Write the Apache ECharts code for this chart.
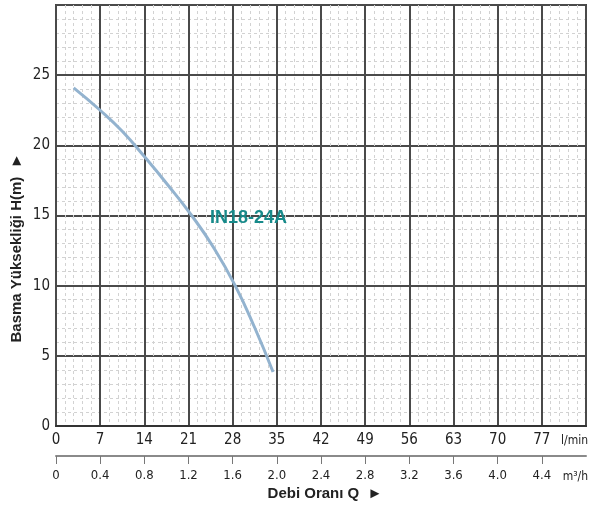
<!DOCTYPE html>
<html>
<head>
<meta charset="utf-8">
<script src="https://cdn.jsdelivr.net/npm/echarts@6/dist/echarts.min.js"></script>
<style>html,body{margin:0;padding:0;background:#fff}#c{width:589px;height:507px}</style>
</head>
<body>
<div id="c"></div>
<script>
var flowLmin = [2.8, 7, 10.5, 14, 17.5, 21.5, 25, 28.4, 31.5, 34.4];
var headM = [24.1, 22.5, 21.0, 19.2, 17.3, 15.0, 12.7, 10.0, 7.0, 3.85];
var lminTicks = [0, 7, 14, 21, 28, 35, 42, 49, 56, 63, 70, 77];
var m3hTicks = ['0', '0.4', '0.8', '1.2', '1.6', '2.0', '2.4', '2.8', '3.2', '3.6', '4.0', '4.4'];
var headTicks = [0, 5, 10, 15, 20, 25];
var seriesName = 'IN18-24A';

var font = '"DejaVu Sans Condensed", "Liberation Sans Narrow", "Liberation Sans", Arial, sans-serif';
var chart = echarts.init(document.getElementById('c'), null, {renderer: 'canvas'});
var data = flowLmin.map(function (q, i) { return [q, headM[i]]; });

chart.setOption({
  animation: false,
  grid: {left: 56, right: 3, top: 5, bottom: 81, show: true, borderColor: '#444', borderWidth: 2, backgroundColor: 'transparent'},
  xAxis: [{
    type: 'value', min: 0, max: 84, interval: 7, position: 'bottom',
    axisLine: {show: true, lineStyle: {color: '#333', width: 2}},
    axisTick: {show: false},
    axisLabel: {customValues: lminTicks, color: '#222', fontSize: 15, fontFamily: font, margin: 7},
    splitLine: {show: true, lineStyle: {color: '#4a4a4a', width: 2}},
    minorTick: {show: true, splitNumber: 5, length: 0},
    minorSplitLine: {show: true, lineStyle: {color: '#d2d2d2', width: 1, type: [3, 3]}}
  }, {
    type: 'value', min: 0, max: 84, interval: 7, position: 'bottom', offset: 30,
    axisLine: {show: true, lineStyle: {color: '#8a8a8a', width: 2}},
    axisTick: {show: true, customValues: lminTicks, length: 8, lineStyle: {color: '#777', width: 1}},
    axisLabel: {customValues: lminTicks, color: '#222', fontSize: 13, fontFamily: font, margin: 13,
      formatter: function (v) { var i = lminTicks.indexOf(v); return i >= 0 ? m3hTicks[i] : ''; }},
    splitLine: {show: false}
  }],
  yAxis: {
    type: 'value', min: 0, max: 30, interval: 5,
    axisLine: {show: false}, axisTick: {show: false},
    axisLabel: {customValues: headTicks, color: '#222', fontSize: 15, fontFamily: font, margin: 6},
    splitLine: {show: true, lineStyle: {color: '#4a4a4a', width: 2}},
    minorTick: {show: true, splitNumber: 5, length: 0},
    minorSplitLine: {show: true, lineStyle: {color: '#d2d2d2', width: 1, type: [3, 3]}}
  },
  series: [{
    name: seriesName, type: 'line', smooth: true, showSymbol: false, symbol: 'none',
    data: data, lineStyle: {color: '#93b3cf', width: 3},
    markPoint: {
      symbol: 'circle', symbolSize: 1, itemStyle: {color: 'rgba(0,0,0,0)'},
      label: {show: true, position: 'inside', formatter: seriesName, color: '#178a8a', fontSize: 18, fontWeight: 'bold',
        fontFamily: '"Liberation Sans", Arial, sans-serif'},
      data: [{coord: [30.5, 14.82], value: 0}]
    }
  }],
  graphic: [
    {type: 'text', x: 588, y: 441, style: {text: 'l/min', fontSize: 12, fontFamily: font, fill: '#222', align: 'right', verticalAlign: 'middle'}},
    {type: 'text', x: 588, y: 477, style: {text: 'm³/h', fontSize: 12, fontFamily: font, fill: '#222', align: 'right', verticalAlign: 'middle'}},
    {type: 'text', x: 325, y: 494, style: {text: 'Debi Oranı Q  ►', fontSize: 15, fontWeight: 'bold',
      fontFamily: '"Liberation Sans", Arial, sans-serif', fill: '#222', align: 'center', verticalAlign: 'middle'}},
    {type: 'text', x: 17, y: 248, rotation: Math.PI / 2, style: {text: 'Basma Yüksekliği H(m)  ►', fontSize: 15, fontWeight: 'bold',
      fontFamily: '"Liberation Sans", Arial, sans-serif', fill: '#222', align: 'center', verticalAlign: 'middle'}}
  ]
});
</script>
</body>
</html>
